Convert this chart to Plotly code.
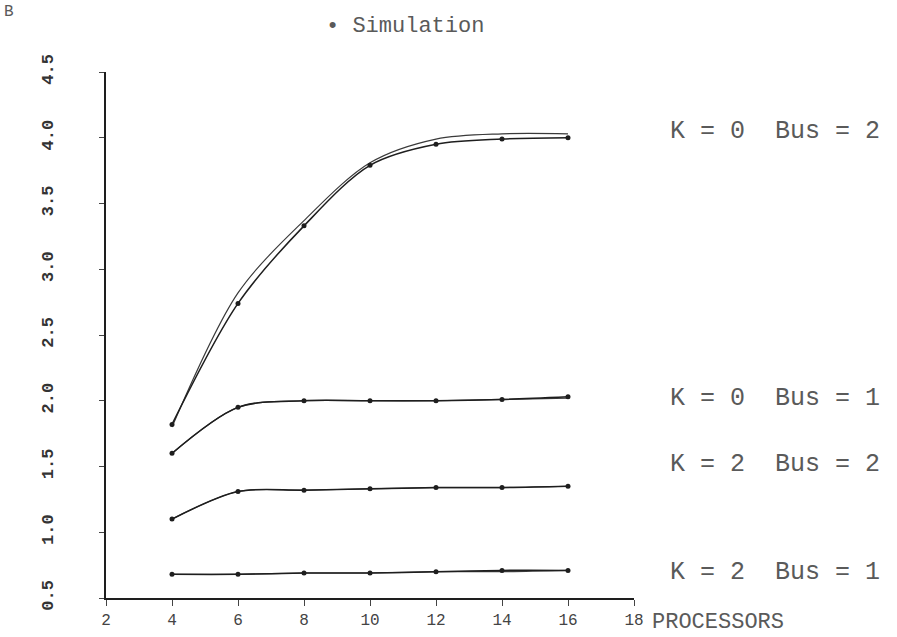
import plotly.graph_objects as go

# ---- data ----
processors = [4, 6, 8, 10, 12, 14, 16]

# analytic curves
k0_bus2_model = [1.80, 2.82, 3.37, 3.81, 3.99, 4.03, 4.03]
k0_bus1_model = [1.60, 1.95, 2.00, 2.00, 2.00, 2.01, 2.02]
k2_bus2_model = [1.10, 1.31, 1.32, 1.33, 1.34, 1.34, 1.35]
k2_bus1_model = [0.68, 0.68, 0.69, 0.69, 0.70, 0.70, 0.71]

# simulation points
k0_bus2_sim = [1.82, 2.74, 3.33, 3.79, 3.95, 3.99, 4.00]
k0_bus1_sim = [1.60, 1.95, 2.00, 2.00, 2.00, 2.01, 2.03]
k2_bus2_sim = [1.10, 1.31, 1.32, 1.33, 1.34, 1.34, 1.35]
k2_bus1_sim = [0.68, 0.68, 0.69, 0.69, 0.70, 0.71, 0.71]

series_labels = ["K = 0  Bus = 2", "K = 0  Bus = 1", "K = 2  Bus = 2", "K = 2  Bus = 1"]

x_ticks = [2, 4, 6, 8, 10, 12, 14, 16, 18]
y_ticks = [0.5, 1.0, 1.5, 2.0, 2.5, 3.0, 3.5, 4.0, 4.5]
y_tick_text = ["0.5", "1.0", "1.5", "2.0", "2.5", "3.0", "3.5", "4.0", "4.5"]

MONO = "Liberation Mono, Courier New, monospace"
INK = "#1e1e1e"
TXT = "#5a5a5a"

fig = go.Figure()

models = [k0_bus2_model, k0_bus1_model, k2_bus2_model, k2_bus1_model]
sims = [k0_bus2_sim, k0_bus1_sim, k2_bus2_sim, k2_bus1_sim]

for m in models:
    fig.add_trace(go.Scatter(
        x=processors, y=m, mode="lines",
        line=dict(color="#3a3a3a", width=1.2, shape="spline", smoothing=0.9),
        showlegend=False, hoverinfo="skip"))

for s in sims:
    fig.add_trace(go.Scatter(
        x=processors, y=s, mode="lines+markers",
        line=dict(color=INK, width=1.5, shape="spline", smoothing=0.9),
        marker=dict(color=INK, size=5, symbol="circle"),
        showlegend=False))

label_pos_y = [0.886, 0.380, 0.253, 0.049]
for lab, py in zip(series_labels, label_pos_y):
    fig.add_annotation(x=1.064, y=py, xref="paper", yref="paper", text=lab,
                       showarrow=False, xanchor="left", yanchor="middle",
                       font=dict(family=MONO, size=25, color=TXT))

fig.add_annotation(x=0.566, y=1.086, xref="paper", yref="paper", text="\u2022 Simulation",
                   showarrow=False, xanchor="center", yanchor="middle",
                   font=dict(family=MONO, size=22, color=TXT))

fig.add_annotation(x=1.03, y=-0.046, xref="paper", yref="paper", text="PROCESSORS",
                   showarrow=False, xanchor="left", yanchor="middle",
                   font=dict(family=MONO, size=22, color=TXT))

fig.add_annotation(x=-0.197, y=1.114, xref="paper", yref="paper", text="B",
                   showarrow=False, xanchor="left", yanchor="middle",
                   font=dict(family=MONO, size=16, color=TXT))

fig.update_xaxes(
    range=[2, 18], tickmode="array", tickvals=x_ticks,
    ticktext=[str(v) for v in x_ticks],
    showgrid=False, zeroline=False, showline=True, linecolor=INK, linewidth=2,
    ticks="outside", ticklen=6, tickcolor="#444", tickwidth=1,
    tickfont=dict(family=MONO, size=16, color="#444444"),
    automargin=False,
)
fig.update_yaxes(
    range=[0.5, 4.5], tickmode="array", tickvals=y_ticks, ticktext=y_tick_text,
    tickangle=-90,
    showgrid=False, zeroline=False, showline=True, linecolor=INK, linewidth=2,
    ticks="outside", ticklen=5, tickcolor="#444", tickwidth=1,
    ticklabelstandoff=39,
    tickfont=dict(family=MONO, size=17, color="#333333", weight="bold"),
    automargin=False,
)

fig.update_layout(
    width=897, height=637,
    margin=dict(l=106, r=263, t=72, b=39, autoexpand=False),
    plot_bgcolor="white", paper_bgcolor="white",
    showlegend=False,
)

fig.write_html("out.html", config={"displayModeBar": False},
               post_script="document.body.style.margin='0';")
